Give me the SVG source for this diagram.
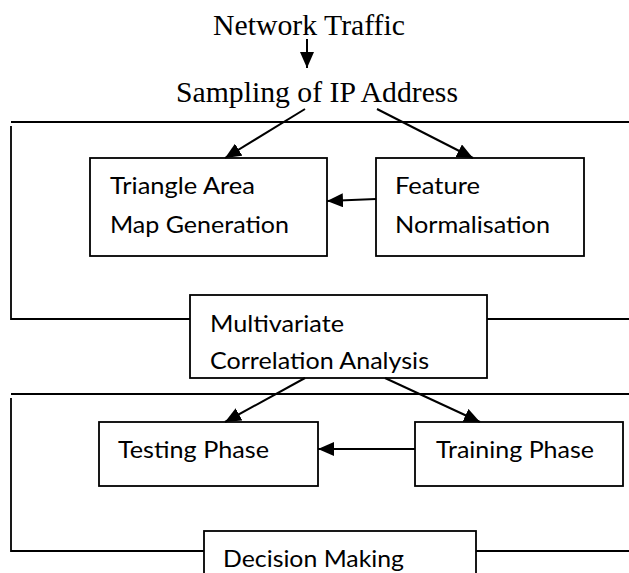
<svg xmlns="http://www.w3.org/2000/svg" width="629" height="573" viewBox="0 0 629 573">
<style>
.box{fill:#fff;stroke:#000;stroke-width:1.8}
.frame{fill:none;stroke:#000;stroke-width:1.8}
.conn{fill:none;stroke:#000;stroke-width:2;marker-end:url(#ah)}
.serif{font-family:"Liberation Serif","Times New Roman",serif;font-size:28.5px;fill:#000}
.sans{font-family:Lato,"Liberation Sans",sans-serif;font-size:24px;fill:#000}
</style>
<defs>
<marker id="ah" markerUnits="userSpaceOnUse" markerWidth="16" markerHeight="14" refX="16" refY="7" orient="auto">
<path d="M0,0 L16,7 L0,14 z" fill="#000"/>
</marker>
</defs>
<rect width="629" height="573" fill="#fff"/>
<g id="frames">
<path class="frame" d="M11,122 H629 M11,126 V319 H190 M487,319 H629"/>
<path class="frame" d="M11,394 H629 M11,398 V551 H204 M476,551 H629"/>
</g>
<g id="network-traffic">
<text class="serif" x="213" y="35" textLength="192" lengthAdjust="spacingAndGlyphs">Network Traffic</text>
</g>
<g id="sampling">
<text class="serif" x="176" y="102" textLength="282" lengthAdjust="spacingAndGlyphs">Sampling of IP Address</text>
</g>
<g id="triangle">
<rect class="box" x="90" y="158" width="237" height="98"/>
<text class="sans" x="110" y="194" textLength="145" lengthAdjust="spacingAndGlyphs">Triangle Area</text>
<text class="sans" x="110" y="233" textLength="179" lengthAdjust="spacingAndGlyphs">Map Generation</text>
</g>
<g id="feature">
<rect class="box" x="376" y="158" width="208" height="98"/>
<text class="sans" x="395" y="194" textLength="85" lengthAdjust="spacingAndGlyphs">Feature</text>
<text class="sans" x="395" y="233" textLength="155" lengthAdjust="spacingAndGlyphs">Normalisation</text>
</g>
<g id="multivariate">
<rect class="box" x="190" y="295" width="297" height="83"/>
<text class="sans" x="210" y="332" textLength="134" lengthAdjust="spacingAndGlyphs">Multivariate</text>
<text class="sans" x="210" y="369" textLength="219" lengthAdjust="spacingAndGlyphs">Correlation Analysis</text>
</g>
<g id="testing">
<rect class="box" x="99" y="422" width="219" height="64"/>
<text class="sans" x="118" y="458" textLength="151" lengthAdjust="spacingAndGlyphs">Testing Phase</text>
</g>
<g id="training">
<rect class="box" x="415" y="422" width="208" height="64"/>
<text class="sans" x="436" y="458" textLength="158" lengthAdjust="spacingAndGlyphs">Training Phase</text>
</g>
<g id="decision">
<rect class="box" x="204" y="531" width="272" height="70"/>
<text class="sans" x="223" y="567" textLength="181" lengthAdjust="spacingAndGlyphs">Decision Making</text>
</g>
<g id="connectors">
<line class="conn" x1="307" y1="39" x2="307" y2="68"/>
<line class="conn" x1="305" y1="109" x2="225" y2="158"/>
<line class="conn" x1="377" y1="109" x2="473" y2="158"/>
<line class="conn" x1="376" y1="199" x2="327" y2="201"/>
<line class="conn" x1="305" y1="378" x2="225" y2="422"/>
<line class="conn" x1="385" y1="378" x2="480" y2="422"/>
<line class="conn" x1="415" y1="449" x2="318" y2="449"/>
</g>
</svg>
